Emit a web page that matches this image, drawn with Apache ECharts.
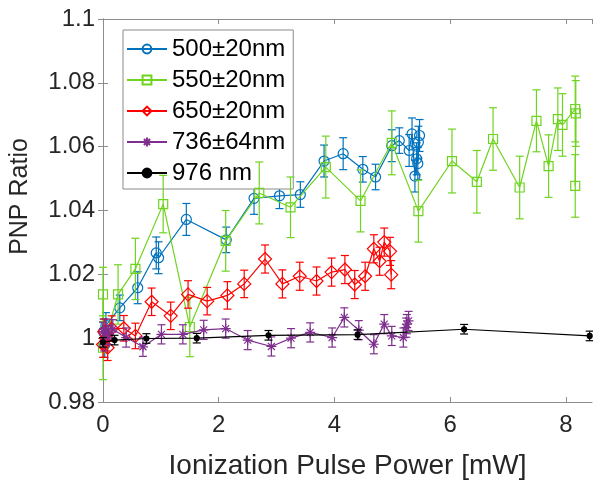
<!DOCTYPE html>
<html>
<head>
<meta charset="utf-8">
<script src="https://cdn.jsdelivr.net/npm/echarts@6/dist/echarts.min.js"></script>
<style>
  html, body { margin: 0; padding: 0; background: #fff; }
  #chart { width: 593px; height: 485px; }
</style>
</head>
<body>
<div id="chart"></div>
<script>
// 500 +- 20 nm
const x500 = [0.01, 0.03, 0.05, 0.29, 0.6, 0.92, 0.96, 1.44, 2.13, 2.61, 3.05, 3.41, 3.82, 4.15, 4.49, 4.71, 4.99, 5.12, 5.29, 5.34, 5.39, 5.42, 5.44, 5.45, 5.47];
const y500 = [1.002, 0.998, 1.004, 1.0095, 1.0158, 1.0267, 1.0252, 1.0372, 1.0308, 1.0438, 1.0446, 1.045, 1.0555, 1.0578, 1.0529, 1.0505, 1.0603, 1.0619, 1.0588, 1.064, 1.0508, 1.0562, 1.0547, 1.0614, 1.0635];
const e500 = [0.004, 0.004, 0.004, 0.004, 0.005, 0.005, 0.005, 0.005, 0.004, 0.005, 0.004, 0.004, 0.005, 0.005, 0.004, 0.004, 0.005, 0.004, 0.005, 0.005, 0.005, 0.005, 0.005, 0.005, 0.005];

// 550 +- 20 nm
const x550 = [0.0, 0.0, 0.26, 0.56, 1.04, 1.5, 2.12, 2.7, 3.24, 3.85, 4.45, 4.99, 5.45, 6.03, 6.46, 6.74, 7.2, 7.49, 7.7, 7.86, 7.94, 8.16, 8.17, 8.16];
const y550 = [1.0137, 0.997, 1.0137, 1.0217, 1.042, 1.0035, 1.0305, 1.0455, 1.041, 1.0536, 1.043, 1.0612, 1.0398, 1.0555, 1.049, 1.0624, 1.0472, 1.0681, 1.0539, 1.0686, 1.0668, 1.0718, 1.0704, 1.0477];
const e550 = [0.0085, 0.01, 0.0093, 0.0096, 0.009, 0.0093, 0.0095, 0.0097, 0.0095, 0.0097, 0.0097, 0.01, 0.0097, 0.01, 0.0098, 0.0098, 0.0098, 0.0097, 0.0098, 0.0098, 0.0098, 0.0103, 0.0103, 0.0098];

// 650 +- 20 nm
const x650 = [0.0, 0.02, 0.05, 0.08, 0.15, 0.36, 0.56, 0.84, 1.17, 1.47, 1.8, 2.15, 2.44, 2.8, 3.1, 3.4, 3.69, 3.95, 4.18, 4.35, 4.53, 4.68, 4.78, 4.86, 4.96, 4.98];
const y650 = [0.998, 1.002, 1.0, 0.997, 1.003, 1.0031, 1.0007, 1.0114, 1.007, 1.0137, 1.0116, 1.0134, 1.017, 1.0248, 1.017, 1.0194, 1.0179, 1.0207, 1.0215, 1.0168, 1.0194, 1.028, 1.0241, 1.0301, 1.0272, 1.0199];
const e650 = [0.004, 0.004, 0.004, 0.004, 0.004, 0.004, 0.004, 0.0043, 0.0043, 0.0043, 0.0043, 0.0043, 0.0043, 0.0044, 0.0044, 0.0044, 0.0044, 0.0044, 0.0044, 0.0044, 0.0044, 0.0044, 0.0044, 0.0044, 0.0044, 0.0044];

// 736 +- 64 nm
const x736 = [0.0, 0.02, 0.05, 0.1, 0.17, 0.4, 0.69, 1.01, 1.38, 1.74, 2.12, 2.5, 2.91, 3.25, 3.58, 3.96, 4.17, 4.42, 4.68, 4.86, 4.99, 5.19, 5.24, 5.25, 5.28];
const y736 = [1.002, 0.999, 1.003, 1.001, 1.0028, 1.0002, 0.9973, 1.0012, 1.0012, 1.0026, 1.003, 0.9994, 0.9974, 1.0, 1.0018, 1.0002, 1.0065, 1.0025, 0.9981, 1.0044, 1.0007, 1.0002, 1.0033, 1.0044, 1.0054];
const e736 = [0.003, 0.003, 0.003, 0.003, 0.003, 0.003, 0.003, 0.003, 0.003, 0.003, 0.003, 0.003, 0.003, 0.003, 0.003, 0.003, 0.003, 0.003, 0.003, 0.003, 0.003, 0.003, 0.003, 0.003, 0.003];

// 976 nm
const x976 = [0.0, 0.2, 0.75, 1.62, 2.86, 4.4, 6.24, 8.41];
const y976 = [0.9987, 0.9994, 0.9999, 1.0, 1.0009, 1.0011, 1.0028, 1.0007];
const e976 = [0.0015, 0.0015, 0.0015, 0.0015, 0.0015, 0.0015, 0.0015, 0.0015];

const asterisk = 'path://M0,-10L0,10M-10,0L10,0M-7,-7L7,7M-7,7L7,-7';

const groups = [
  { name: '500\u00b120nm', x: x500, y: y500, e: e500, color: '#0072BD', symbol: 'circle', size: 10 },
  { name: '550\u00b120nm', x: x550, y: y550, e: e550, color: '#6FD41F', symbol: 'rect', size: 9 },
  { name: '650\u00b120nm', x: x650, y: y650, e: e650, color: '#FF0000', symbol: 'diamond', size: 13 },
  { name: '736\u00b164nm', x: x736, y: y736, e: e736, color: '#7E2F8E', symbol: asterisk, size: 10 },
  { name: '976 nm', x: x976, y: y976, e: e976, color: '#000000', symbol: 'circle', size: 5, filled: true }
];

function errRender(color) {
  return function (params, api) {
    const x = api.value(0), y = api.value(1), e = api.value(2);
    const top = api.coord([x, y + e]);
    const bot = api.coord([x, y - e]);
    const w = 4;
    const st = { stroke: color, lineWidth: 1.2 };
    return {
      type: 'group',
      children: [
        { type: 'line', shape: { x1: top[0], y1: top[1], x2: bot[0], y2: bot[1] }, style: st },
        { type: 'line', shape: { x1: top[0] - w, y1: top[1], x2: top[0] + w, y2: top[1] }, style: st },
        { type: 'line', shape: { x1: bot[0] - w, y1: bot[1], x2: bot[0] + w, y2: bot[1] }, style: st }
      ]
    };
  };
}

const series = [];
groups.forEach(function (g, i) {
  series.push({
    name: g.name + ' err',
    type: 'custom',
    renderItem: errRender(g.color),
    data: g.x.map(function (v, k) { return [v, g.y[k], g.e[k]]; }),
    encode: { x: 0, y: 1 },
    z: 2 + i * 2,
    silent: true,
    animation: false
  });
  series.push({
    name: g.name,
    type: 'line',
    data: g.x.map(function (v, k) { return [v, g.y[k]]; }),
    symbol: g.symbol,
    symbolSize: g.size,
    showAllSymbol: true,
    lineStyle: { color: g.color, width: 1.2 },
    itemStyle: {
      color: g.filled ? g.color : 'rgba(0,0,0,0)',
      borderColor: g.color,
      borderWidth: 1.2
    },
    z: 3 + i * 2,
    animation: false
  });
});

const axisCol = '#262626';
const chart = echarts.init(document.getElementById('chart'));
chart.setOption({
  backgroundColor: '#fff',
  textStyle: { fontFamily: 'Liberation Sans, Arial, sans-serif' },
  grid: { left: 103, right: 1, top: 19, bottom: 81 },
  legend: {
    data: groups.map(function (g) { return g.name; }),
    orient: 'vertical',
    left: 123,
    top: 30,
    itemWidth: 40,
    itemHeight: 11,
    itemGap: 7,
    padding: [7, 8, 4, 3],
    backgroundColor: '#fff',
    borderColor: '#8a8a8a',
    borderWidth: 1,
    textStyle: { fontSize: 24, color: '#000' }
  },
  xAxis: [{
    type: 'value', min: 0, max: 8.45, interval: 2,
    name: 'Ionization Pulse Power [mW]', nameLocation: 'middle', nameGap: 50,
    nameTextStyle: { fontSize: 28, color: axisCol },
    axisLine: { lineStyle: { color: '#8c8c8c', width: 1 } },
    axisTick: { inside: true, length: 5, lineStyle: { color: '#8c8c8c' } },
    axisLabel: { fontSize: 24, color: axisCol, margin: 11, showMaxLabel: false },
    splitLine: { show: false }
  }, {
    type: 'value', min: 0, max: 8.45, interval: 2, position: 'top',
    axisLine: { show: true, lineStyle: { color: '#8c8c8c', width: 1 } },
    axisTick: { inside: true, length: 5, lineStyle: { color: '#8c8c8c' } },
    axisLabel: { show: false },
    splitLine: { show: false }
  }],
  yAxis: [{
    type: 'value', min: 0.98, max: 1.1, interval: 0.02,
    name: 'PNP Ratio', nameLocation: 'middle', nameGap: 70,
    nameTextStyle: { fontSize: 25, color: axisCol, padding: [0, 0, 0, 28] },
    axisLine: { show: true, lineStyle: { color: '#8c8c8c', width: 1 } },
    axisTick: { show: true, inside: true, length: 5, lineStyle: { color: '#8c8c8c' } },
    axisLabel: {
      fontSize: 24, color: axisCol, margin: 8,
      formatter: function (v) { return String(parseFloat(v.toFixed(2))); }
    },
    splitLine: { show: false }
  }, {
    type: 'value', min: 0.98, max: 1.1, interval: 0.02, position: 'right',
    axisLine: { show: true, lineStyle: { color: '#8c8c8c', width: 1 } },
    axisTick: { show: true, inside: true, length: 5, lineStyle: { color: '#8c8c8c' } },
    axisLabel: { show: false },
    splitLine: { show: false }
  }],
  series: series
});
</script>
</body>
</html>
